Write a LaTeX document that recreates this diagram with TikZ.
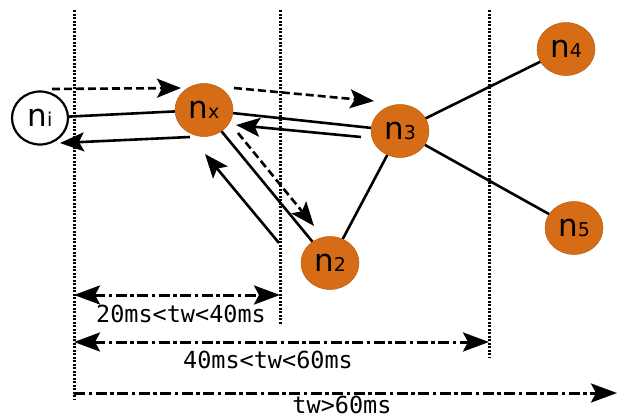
\documentclass[tikz,border=0pt]{standalone}
\usepackage{fontspec}
\setmainfont{DejaVu Sans}
\newfontfamily\monofont{DejaVu Sans Mono}
\usetikzlibrary{shapes.geometric,arrows.meta}
\definecolor{nodeorange}{RGB}{214,108,22}
\newcommand\nsub[1]{{\fontsize{19}{19}\selectfont #1}}
\begin{document}
\begin{tikzpicture}[x=1pt,y=-1pt,
  peer/.style={ellipse, minimum width=58pt, minimum height=53pt, inner sep=0pt,
    fill=nodeorange, draw=nodeorange!85!black, line width=0.5pt,
    font=\fontsize{31}{31}\selectfont},
  origin/.style={peer, fill=white, draw=black, line width=2.2pt, minimum width=56pt, minimum height=53pt},
  link/.style={line width=2.6pt},
  tip/.style={-{Stealth[length=24pt,width=19pt,inset=5pt]}},
  req/.style={link, tip, dash pattern=on 8pt off 4pt},
  resp/.style={link, tip},
  boundary/.style={line width=3pt, dash pattern=on 2.2pt off 1.3pt},
  window/.style={line width=3pt, dash pattern=on 11pt off 3.5pt on 3.5pt off 3.5pt},
  wtip/.style={{Stealth[length=26pt,width=19pt,inset=5pt]}-{Stealth[length=26pt,width=19pt,inset=5pt]}},
  wtipr/.style={-{Stealth[length=26pt,width=19pt,inset=5pt]}},
  wlabel/.style={font=\monofont\fontsize{23.5}{23.5}\selectfont, inner sep=0pt, anchor=base}
]
\useasboundingbox (0,0) rectangle (618,418);

% time-window boundaries
\coordinate (b1t) at (74,10);  \coordinate (b1b) at (74,400);
\coordinate (b2t) at (280,10); \coordinate (b2b) at (280,325);
\coordinate (b3t) at (489,10); \coordinate (b3b) at (489,358);
\draw[boundary] (b1t) -- (b1b);
\draw[boundary] (b2t) -- (b2b);
\draw[boundary] (b3t) -- (b3b);

% peers
\node[origin] (ni) at (40,118) {n\nsub{i}};
\node[peer] (nx) at (204,110) {n\nsub{x}};
\node[peer] (n3) at (400,131) {n\nsub{3}};
\node[peer] (n2) at (330,263) {n\nsub{2}};
\node[peer] (n4) at (566,49) {n\nsub{4}};
\node[peer] (n5) at (574,228) {n\nsub{5}};

% overlay links
\draw[link] (ni) -- (nx);
\draw[link] (nx) -- (n3);
\draw[link] (nx) -- (n2);
\draw[link] (n3) -- (n2);
\draw[link] (n3) -- (n4);
\draw[link] (n3) -- (n5);

% query forwarding (dashed) and replies (solid)
\coordinate (q1s) at (52,89);   \coordinate (q1e) at (181,88);
\coordinate (r1s) at (190,137); \coordinate (r1e) at (60,143);
\coordinate (q2s) at (234,88);  \coordinate (q2e) at (374,101);
\coordinate (r2s) at (361,137); \coordinate (r2e) at (236,125);
\coordinate (q3s) at (238,133); \coordinate (q3e) at (314,226);
\coordinate (r3s) at (279,243); \coordinate (r3e) at (205,154);
\draw[req] (q1s) -- (q1e);
\draw[resp] (r1s) -- (r1e);
\draw[req] (q2s) -- (q2e);
\draw[resp] (r2s) -- (r2e);
\draw[req] (q3s) -- (q3e);
\draw[resp] (r3s) -- (r3e);

% waiting-time windows
\coordinate (w1a) at (74,295);  \coordinate (w1b) at (280,295);
\coordinate (w2a) at (74,342);  \coordinate (w2b) at (489,342);
\coordinate (w3a) at (74,393);  \coordinate (w3b) at (617,393);
\draw[window, wtip] (w1a) -- (w1b);
\draw[window, wtip] (w2a) -- (w2b);
\draw[window, wtipr] (w3a) -- (w3b);
\node[wlabel] (l1) at (181,322) {20ms<tw<40ms};
\node[wlabel] (l2) at (268,368) {40ms<tw<60ms};
\node[wlabel] (l3) at (342,413) {tw>60ms};
\end{tikzpicture}
\end{document}
